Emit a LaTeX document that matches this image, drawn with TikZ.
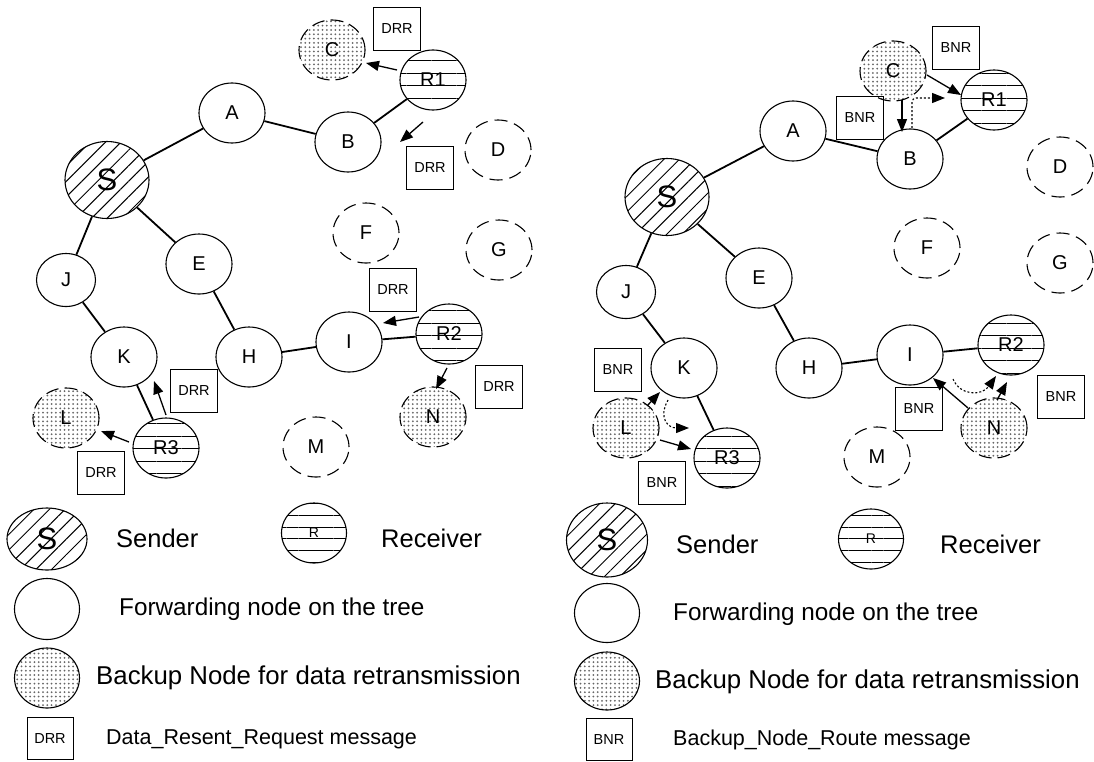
\documentclass[tikz,border=0pt]{standalone}
\usepackage{fontspec}
\setmainfont{Liberation Sans}
\usetikzlibrary{shapes.geometric,patterns.meta,arrows.meta}
\begin{document}
\begin{tikzpicture}[x=1pt,y=-1pt,
  base/.style={ellipse,draw,line width=1.1pt,minimum width=66pt,minimum height=60pt,inner sep=0pt,font=\fontsize{20}{22}\selectfont},
  fwd/.style={base},
  snd/.style={base,minimum width=84pt,minimum height=77pt,pattern={Lines[angle=45,distance=11pt,line width=1pt]},font=\fontsize{31}{33}\selectfont},
  rcv/.style={base,pattern={Lines[angle=0,distance=12.5pt,line width=1pt]}},
  bak/.style={base,dash pattern=on 13pt off 6pt,pattern={Dots[distance=4.3pt,radius=1pt]},pattern color=black!60},
  idle/.style={base,dash pattern=on 13pt off 7pt},
  small/.style={minimum width=59pt,minimum height=53pt},
  msgbox/.style={rectangle,draw,line width=1pt,minimum width=47pt,minimum height=43pt,inner sep=0pt,font=\fontsize{14.5}{16}\selectfont},
  treeedge/.style={line width=1.8pt},
  msgarrow/.style={line width=1.3pt,-{Triangle[length=13pt,width=10pt]}},
  dotarrow/.style={line width=1.1pt,dash pattern=on 2pt off 2pt,-{Triangle[length=13pt,width=10pt]}},
  bigtext/.style={anchor=base west,inner sep=0pt,font=\fontsize{25.5}{30}\selectfont},
  fwdtext/.style={anchor=base west,inner sep=0pt,font=\fontsize{24.3}{30}\selectfont},
  bktext/.style={anchor=base west,inner sep=0pt,font=\fontsize{25.8}{30}\selectfont},
  midtext/.style={anchor=base west,inner sep=0pt,font=\fontsize{21.5}{26}\selectfont}
]
\fill[white] (0,0) rectangle (1094,761);
\useasboundingbox (0,0) rectangle (1094,761);

% ---------------- Left panel ----------------
\node[snd] (S1) at (107,180) {S};
\node[fwd] (A1) at (232,113) {A};
\node[fwd] (B1) at (348,142) {B};
\node[bak] (C1) at (332,50) {C};
\node[rcv] (R11) at (433,80) {R1};
\node[idle] (D1) at (498,150) {D};
\node[fwd] (E1) at (199,264) {E};
\node[idle] (F1) at (366,233) {F};
\node[idle] (G1) at (499,250) {G};
\node[fwd,small] (J1) at (66,280) {J};
\node[fwd] (K1) at (124,357) {K};
\node[fwd] (H1) at (249,357) {H};
\node[fwd] (I1) at (349,342) {I};
\node[rcv] (R21) at (449,334) {R2};
\node[bak] (L1) at (66,418) {L};
\node[rcv] (R31) at (166,448) {R3};
\node[bak] (N1) at (433,417) {N};
\node[idle] (M1) at (316,447) {M};

\draw[treeedge] (S1) -- (A1);
\draw[treeedge] (A1) -- (B1);
\draw[treeedge] (B1) -- (R11);
\draw[treeedge] (S1) -- (E1);
\draw[treeedge] (E1) -- (H1);
\draw[treeedge] (H1) -- (I1);
\draw[treeedge] (I1) -- (R21);
\draw[treeedge] (S1) -- (J1);
\draw[treeedge] (J1) -- (K1);
\draw[treeedge] (K1) -- (R31);

\node[msgbox] (m11) at (397,29) {DRR};
\node[msgbox] (m12) at (430,168) {DRR};
\node[msgbox] (m13) at (393,290) {DRR};
\node[msgbox] (m14) at (499,387) {DRR};
\node[msgbox] (m15) at (194,391) {DRR};
\node[msgbox] (m16) at (101,473) {DRR};

\coordinate (a1s) at (397,70);  \coordinate (a1e) at (366,63);
\coordinate (a2s) at (423,122); \coordinate (a2e) at (400,142);
\coordinate (a3s) at (419,317); \coordinate (a3e) at (383,323);
\coordinate (a4s) at (447,368); \coordinate (a4e) at (436,389);
\coordinate (a5s) at (166,415); \coordinate (a5e) at (154,381);
\coordinate (a6s) at (129,442); \coordinate (a6e) at (101,431);
\draw[msgarrow] (a1s) -- (a1e);
\draw[msgarrow] (a2s) -- (a2e);
\draw[msgarrow] (a3s) -- (a3e);
\draw[msgarrow] (a4s) -- (a4e);
\draw[msgarrow] (a5s) -- (a5e);
\draw[msgarrow] (a6s) -- (a6e);

% ---------------- Right panel ----------------
\node[snd] (S2) at (667,197) {S};
\node[fwd] (A2) at (793,131) {A};
\node[fwd] (B2) at (910,159) {B};
\node[bak] (C2) at (893,71) {C};
\node[rcv] (R12) at (994,100) {R1};
\node[idle] (D2) at (1060,167) {D};
\node[fwd] (E2) at (759,278) {E};
\node[idle] (F2) at (927,248) {F};
\node[idle] (G2) at (1060,263) {G};
\node[fwd,small] (J2) at (626,292) {J};
\node[fwd] (K2) at (684,368) {K};
\node[fwd] (H2) at (809,368) {H};
\node[fwd] (I2) at (910,355) {I};
\node[rcv] (R22) at (1011,345) {R2};
\node[bak] (L2) at (626,428) {L};
\node[rcv] (R32) at (727,458) {R3};
\node[bak] (N2) at (994,428) {N};
\node[idle] (M2) at (877,457) {M};

\draw[treeedge] (S2) -- (A2);
\draw[treeedge] (A2) -- (B2);
\draw[treeedge] (B2) -- (R12);
\draw[treeedge] (S2) -- (E2);
\draw[treeedge] (E2) -- (H2);
\draw[treeedge] (H2) -- (I2);
\draw[treeedge] (I2) -- (R22);
\draw[treeedge] (S2) -- (J2);
\draw[treeedge] (J2) -- (K2);
\draw[treeedge] (K2) -- (R32);

\node[msgbox] (m21) at (956,48) {BNR};
\node[msgbox] (m22) at (860,118) {BNR};
\node[msgbox] (m23) at (618,370) {BNR};
\node[msgbox] (m24) at (662,483) {BNR};
\node[msgbox] (m25) at (919,409) {BNR};
\node[msgbox] (m26) at (1061,397) {BNR};

\coordinate (b1s) at (927,75);  \coordinate (b1e) at (961,95);
\coordinate (b2s) at (902,100); \coordinate (b2e) at (902,132);
\coordinate (b3s) at (912,128); \coordinate (b3e) at (945,98);
\coordinate (b4s) at (647,406); \coordinate (b4e) at (660,392);
\coordinate (b5s) at (668,400); \coordinate (b5e) at (689,428);
\coordinate (b6s) at (660,440); \coordinate (b6e) at (691,449);
\coordinate (b7s) at (968,408); \coordinate (b7e) at (933,378);
\coordinate (b8s) at (997,400); \coordinate (b8e) at (1007,382);
\coordinate (b9s) at (953,379); \coordinate (b9e) at (996,376);
\draw[msgarrow] (b1s) -- (b1e);
\draw[msgarrow] (b2s) -- (b2e);
\draw[dotarrow,rounded corners=4pt] (b3s) |- (b3e);
\draw[msgarrow] (b4s) -- (b4e);
\draw[dotarrow] (b5s) .. controls (658,418) and (668,428) .. (b5e);
\draw[msgarrow] (b6s) -- (b6e);
\draw[msgarrow] (b7s) -- (b7e);
\draw[msgarrow] (b8s) -- (b8e);
\draw[dotarrow] (b9s) .. controls (960,396) and (982,396) .. (b9e);

% ---------------- Left legend ----------------
\node[snd,minimum width=80pt,minimum height=62pt] (lgS1) at (47,539) {S};
\node[bigtext] (lgS1t) at (116,547) {Sender};
\node[rcv,minimum width=65pt,minimum height=60pt,pattern={Lines[angle=0,distance=11.7pt,line width=1pt]},font=\fontsize{14}{15}\selectfont] (lgR1) at (314,533) {R};
\node[bigtext] (lgR1t) at (381,547) {Receiver};
\node[fwd,minimum width=65pt,minimum height=61pt] (lgF1) at (47,609) {};
\node[fwdtext] (lgF1t) at (119,615) {Forwarding node on the tree};
\node[bak,minimum width=65pt,minimum height=60pt,solid] (lgB1) at (47,678) {};
\node[bktext] (lgB1t) at (96,684) {Backup Node for data retransmission};
\node[msgbox,minimum width=46pt,minimum height=42pt] (lgM1) at (50,738) {DRR};
\node[midtext] (lgM1t) at (106,744) {Data\_Resent\_Request message};

% ---------------- Right legend ----------------
\node[snd,minimum width=81pt,minimum height=74pt] (lgS2) at (607,540) {S};
\node[bigtext] (lgS2t) at (676,553) {Sender};
\node[rcv,minimum width=65pt,minimum height=60pt,pattern={Lines[angle=0,distance=11.7pt,line width=1pt]},font=\fontsize{14}{15}\selectfont] (lgR2) at (871,539) {R};
\node[bigtext] (lgR2t) at (940,553) {Receiver};
\node[fwd,minimum width=65pt,minimum height=59pt] (lgF2) at (607,613) {};
\node[fwdtext] (lgF2t) at (673,620) {Forwarding node on the tree};
\node[bak,minimum width=65pt,minimum height=58pt,solid] (lgB2) at (607,681) {};
\node[bktext] (lgB2t) at (655,688) {Backup Node for data retransmission};
\node[msgbox,minimum width=46pt,minimum height=42pt] (lgM2) at (609,739) {BNR};
\node[midtext] (lgM2t) at (673,745) {Backup\_Node\_Route message};
\end{tikzpicture}
\end{document}
